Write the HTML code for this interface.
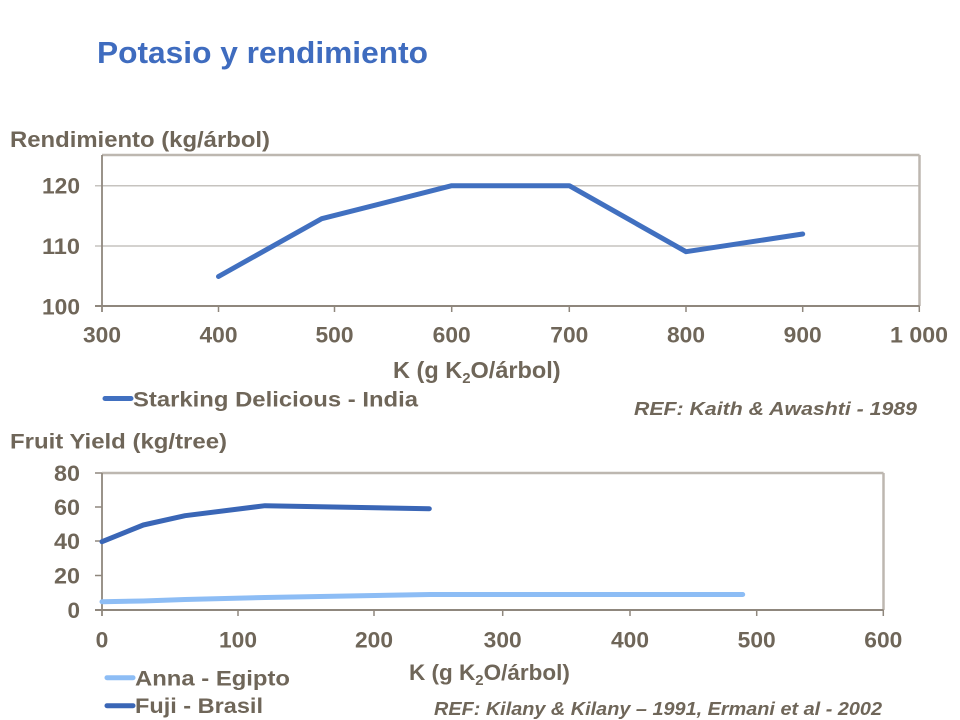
<!DOCTYPE html>
<html>
<head>
<meta charset="utf-8">
<style>
  html,body{margin:0;padding:0;background:#fff;}
  svg{display:block;}
  text{font-family:"Liberation Sans",Arial,sans-serif;font-weight:bold;fill:#6f6659;}
</style>
</head>
<body>
<svg width="960" height="720" viewBox="0 0 960 720" xmlns="http://www.w3.org/2000/svg">
  <rect width="960" height="720" fill="#fff"/>
  <!-- Title -->
  <text x="97" y="63" font-size="31" style="fill:#3f6cbf" textLength="331" lengthAdjust="spacingAndGlyphs">Potasio y rendimiento</text>

  <!-- ===== Chart 1 ===== -->
  <text x="10" y="147" font-size="22" textLength="260" lengthAdjust="spacingAndGlyphs">Rendimiento (kg/árbol)</text>
  <!-- gridlines -->
  <line x1="95" y1="185.7" x2="919" y2="185.7" stroke="#c6c3bf" stroke-width="1.5"/>
  <line x1="95" y1="246" x2="919" y2="246" stroke="#c6c3bf" stroke-width="1.5"/>
  <!-- box -->
  <line x1="102" y1="155" x2="919.5" y2="155" stroke="#bdb7b0" stroke-width="2.5"/>
  <line x1="919.5" y1="155" x2="919.5" y2="306" stroke="#bdb7b0" stroke-width="2.5"/>
  <!-- axes -->
  <line x1="102" y1="155" x2="102" y2="312" stroke="#8f877d" stroke-width="1.8"/>
  <line x1="95" y1="306" x2="919.5" y2="306" stroke="#8f877d" stroke-width="2"/>
  <g stroke="#8f877d" stroke-width="1.5">
    <line x1="218.5" y1="306" x2="218.5" y2="312"/>
    <line x1="334.5" y1="306" x2="334.5" y2="312"/>
    <line x1="451.7" y1="306" x2="451.7" y2="312"/>
    <line x1="569.3" y1="306" x2="569.3" y2="312"/>
    <line x1="686" y1="306" x2="686" y2="312"/>
    <line x1="802.7" y1="306" x2="802.7" y2="312"/>
    <line x1="919.3" y1="306" x2="919.3" y2="312"/>
  </g>
  <!-- y labels -->
  <g font-size="22">
    <text x="42" y="193.5" textLength="38" lengthAdjust="spacingAndGlyphs">120</text>
    <text x="42" y="254" textLength="38" lengthAdjust="spacingAndGlyphs">110</text>
    <text x="42" y="314.5" textLength="38" lengthAdjust="spacingAndGlyphs">100</text>
  </g>
  <!-- x labels -->
  <g font-size="22">
    <text x="83" y="342.5" textLength="38" lengthAdjust="spacingAndGlyphs">300</text>
    <text x="199.5" y="342.5" textLength="38" lengthAdjust="spacingAndGlyphs">400</text>
    <text x="315.5" y="342.5" textLength="38" lengthAdjust="spacingAndGlyphs">500</text>
    <text x="432.7" y="342.5" textLength="38" lengthAdjust="spacingAndGlyphs">600</text>
    <text x="550.3" y="342.5" textLength="38" lengthAdjust="spacingAndGlyphs">700</text>
    <text x="667" y="342.5" textLength="38" lengthAdjust="spacingAndGlyphs">800</text>
    <text x="783.7" y="342.5" textLength="38" lengthAdjust="spacingAndGlyphs">900</text>
    <text x="890" y="342.5" textLength="58" lengthAdjust="spacingAndGlyphs">1 000</text>
  </g>
  <!-- series -->
  <polyline points="218.5,276.5 321.7,218.7 451.7,185.7 569.3,185.7 686,251.7 802.7,234" fill="none" stroke="#4170c0" stroke-width="5" stroke-linecap="round" stroke-linejoin="round"/>
  <!-- x title -->
  <text x="393" y="378" font-size="23.5">K (g K<tspan font-size="15" dy="5">2</tspan><tspan dy="-5">O/árbol)</tspan></text>
  <!-- legend -->
  <line x1="105" y1="398.5" x2="131" y2="398.5" stroke="#4170c0" stroke-width="5" stroke-linecap="round"/>
  <text x="133" y="406.5" font-size="21" textLength="285" lengthAdjust="spacingAndGlyphs">Starking Delicious - India</text>
  <text x="634" y="415" font-size="18" font-style="italic" textLength="283" lengthAdjust="spacingAndGlyphs">REF: Kaith &amp; Awashti - 1989</text>

  <!-- ===== Chart 2 ===== -->
  <text x="10" y="448.5" font-size="21" textLength="217" lengthAdjust="spacingAndGlyphs">Fruit Yield (kg/tree)</text>
  <!-- box -->
  <line x1="102" y1="473" x2="883.5" y2="473" stroke="#bdb7b0" stroke-width="2.5"/>
  <line x1="883.5" y1="473" x2="883.5" y2="610" stroke="#bdb7b0" stroke-width="2.5"/>
  <!-- axes -->
  <line x1="102" y1="473" x2="102" y2="616" stroke="#8f877d" stroke-width="1.8"/>
  <line x1="95" y1="610" x2="883.5" y2="610" stroke="#8f877d" stroke-width="2"/>
  <g stroke="#8f877d" stroke-width="1.5">
    <line x1="95" y1="473" x2="102" y2="473"/>
    <line x1="95" y1="507" x2="102" y2="507"/>
    <line x1="95" y1="541" x2="102" y2="541"/>
    <line x1="95" y1="575.5" x2="102" y2="575.5"/>
    <line x1="238" y1="610" x2="238" y2="616"/>
    <line x1="374" y1="610" x2="374" y2="616"/>
    <line x1="502.7" y1="610" x2="502.7" y2="616"/>
    <line x1="630" y1="610" x2="630" y2="616"/>
    <line x1="756.7" y1="610" x2="756.7" y2="616"/>
    <line x1="883.3" y1="610" x2="883.3" y2="616"/>
  </g>
  <g font-size="22">
    <text x="54" y="481" textLength="26" lengthAdjust="spacingAndGlyphs">80</text>
    <text x="54" y="515" textLength="26" lengthAdjust="spacingAndGlyphs">60</text>
    <text x="54" y="549" textLength="26" lengthAdjust="spacingAndGlyphs">40</text>
    <text x="54" y="583.5" textLength="26" lengthAdjust="spacingAndGlyphs">20</text>
    <text x="67.5" y="618" textLength="12.5" lengthAdjust="spacingAndGlyphs">0</text>
  </g>
  <g font-size="22">
    <text x="95.7" y="647.5" textLength="12.7" lengthAdjust="spacingAndGlyphs">0</text>
    <text x="219" y="647.5" textLength="38" lengthAdjust="spacingAndGlyphs">100</text>
    <text x="355" y="647.5" textLength="38" lengthAdjust="spacingAndGlyphs">200</text>
    <text x="483.7" y="647.5" textLength="38" lengthAdjust="spacingAndGlyphs">300</text>
    <text x="611" y="647.5" textLength="38" lengthAdjust="spacingAndGlyphs">400</text>
    <text x="737.7" y="647.5" textLength="38" lengthAdjust="spacingAndGlyphs">500</text>
    <text x="864.3" y="647.5" textLength="38" lengthAdjust="spacingAndGlyphs">600</text>
  </g>
  <!-- series -->
  <polyline points="102,601.7 143,601 185,599.5 265,597.5 430,594.5 742.7,594.5" fill="none" stroke="#8dbdf5" stroke-width="5" stroke-linecap="round" stroke-linejoin="round"/>
  <polyline points="102,541.7 143.3,525 185,515.7 265,505.7 429.3,508.7" fill="none" stroke="#3a66b6" stroke-width="5" stroke-linecap="round" stroke-linejoin="round"/>
  <!-- x title -->
  <text x="409" y="680" font-size="22.5">K (g K<tspan font-size="15" dy="5">2</tspan><tspan dy="-5">O/árbol)</tspan></text>
  <!-- legend -->
  <line x1="107" y1="677.7" x2="133" y2="677.7" stroke="#8dbdf5" stroke-width="5" stroke-linecap="round"/>
  <text x="135" y="685.5" font-size="21" textLength="155" lengthAdjust="spacingAndGlyphs">Anna - Egipto</text>
  <line x1="107" y1="705.7" x2="133" y2="705.7" stroke="#3a66b6" stroke-width="5" stroke-linecap="round"/>
  <text x="135" y="713" font-size="21" textLength="128" lengthAdjust="spacingAndGlyphs">Fuji - Brasil</text>
  <text x="434" y="715" font-size="18" font-style="italic" textLength="448" lengthAdjust="spacingAndGlyphs">REF: Kilany &amp; Kilany – 1991, Ermani et al - 2002</text>
</svg>
</body>
</html>
